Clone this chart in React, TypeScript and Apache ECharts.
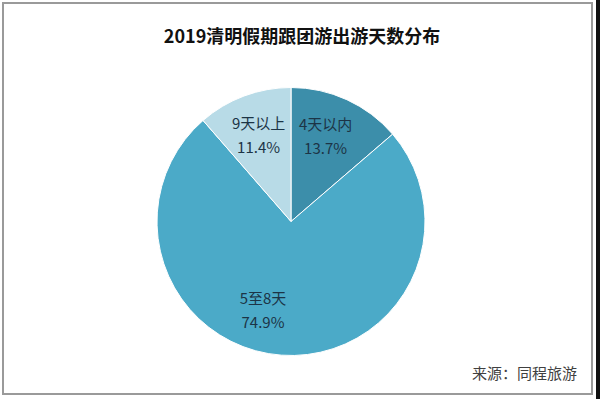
import React, { useEffect, useRef } from "react";
import * as echarts from "echarts";

const titleText = "2019清明假期跟团游出游天数分布";
const sourceText = "来源：同程旅游";
const categories = ["4天以内", "5至8天", "9天以上"];
const shares = [13.7, 74.9, 11.4];
const sliceColors = ["#3c8eaa", "#4baac8", "#b8dbe7"];
const labelAngleShift = [-2.7, 13.5, 0];

export default function App() {
  const ref = useRef<HTMLDivElement>(null);
  useEffect(() => {
    if (!ref.current) return;
    const chart = echarts.init(ref.current, undefined, { renderer: "svg" });
    const cx = 291;
    const cy = 221.5;
    const R = 134;
    const total = shares.reduce((a, b) => a + b, 0);
    const cum: number[] = [];
    let acc = 0;
    shares.forEach((v) => {
      cum.push(acc + v / 2);
      acc += v;
    });
    chart.setOption({
      animation: false,
      backgroundColor: "#ffffff",
      title: {
        text: titleText,
        left: 297,
        top: 21,
        textAlign: "center",
        textStyle: {
          fontFamily: "Noto Sans CJK SC",
          fontSize: 18,
          fontWeight: "bold",
          color: "#111111",
        },
      },
      graphic: [
        {
          type: "rect",
          shape: { x: 3, y: 3, width: 589, height: 391 },
          style: { fill: "none", stroke: "#9a9a9a", lineWidth: 2 },
          silent: true,
        },
        {
          type: "rect",
          shape: { x: 596, y: 0, width: 4, height: 399 },
          style: { fill: "#111111" },
          silent: true,
        },
        {
          type: "text",
          x: 577,
          y: 372,
          style: {
            text: sourceText,
            align: "right",
            verticalAlign: "middle",
            fontFamily: "Noto Sans CJK SC",
            fontSize: 15,
            fill: "#404040",
          },
        },
      ],
      series: [
        {
          type: "pie",
          center: [cx, cy],
          radius: [0, R],
          startAngle: 90,
          clockwise: true,
          itemStyle: { borderColor: "#ffffff", borderWidth: 1 },
          label: {
            show: true,
            position: "inside",
            formatter: (p: any) => `${p.name}\n${p.value}%`,
            fontFamily: "Noto Sans CJK SC",
            fontSize: 15,
            lineHeight: 24,
            color: "#1c3446",
          },
          labelLine: { show: false },
          emphasis: { disabled: true },
          labelLayout: (params: any) => {
            const i = params.dataIndex;
            const ang = (cum[i] / total) * 2 * Math.PI + (labelAngleShift[i] * Math.PI) / 180;
            const r = R * 0.69;
            return { x: cx + r * Math.sin(ang), y: cy - r * Math.cos(ang) };
          },
          data: categories.map((c, i) => ({
            name: c,
            value: shares[i],
            itemStyle: { color: sliceColors[i] },
          })),
        },
      ],
    });
    return () => chart.dispose();
  }, []);
  return (
    <div
      ref={ref}
      style={{ position: "fixed", left: 0, top: 0, width: 600, height: 399 }}
    />
  );
}
